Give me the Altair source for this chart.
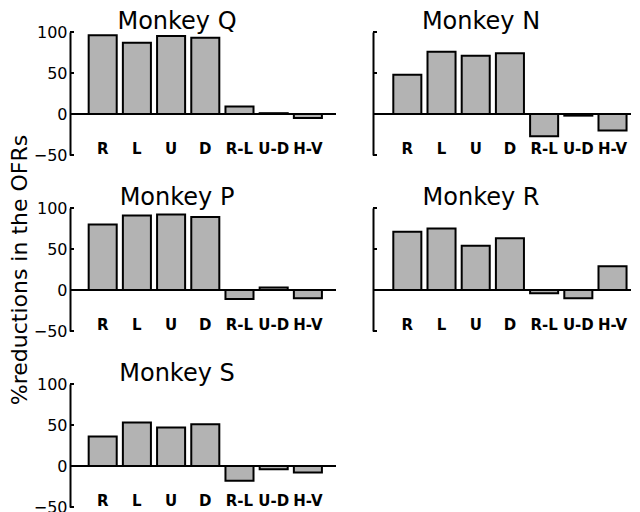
import altair as alt
import pandas as pd

categories = ["R", "L", "U", "D", "R-L", "U-D", "H-V"]
monkey_q = [96, 87, 95, 93, 9, 1, -5]
monkey_n = [48, 76, 71, 74, -27, -2, -20]
monkey_p = [80, 91, 92, 89, -11, 3, -10]
monkey_r = [71, 75, 54, 63, -4, -10, 29]
monkey_s = [36, 53, 47, 51, -18, -4, -8]
tick_values = [100, 50, 0, -50]

FONT = "DejaVu Sans"
PLOT_H = 123
ROW_GAP = 53
LEFT_W = 266
RIGHT_W = 258


def panel(name, values, show_labels, width, pad_outer, align, title_dx, ytitle=None):
    df = pd.DataFrame({"cat": categories, "value": values})
    yscale = alt.Scale(domain=[-50, 100], nice=False, zero=False)
    yaxis_kwargs = dict(
        values=tick_values,
        ticks=False,
        domainColor="black",
        domainWidth=2,
        labelFontSize=16,
        labelFont=FONT,
        labelColor="black",
        labelPadding=3,
        labelOpacity=1 if show_labels else 0,
        grid=False,
    )
    if ytitle:
        # title centred on the middle row of panels
        yaxis_kwargs.update(
            title=ytitle,
            titleFont=FONT,
            titleFontSize=22,
            titleFontWeight="normal",
            titleColor="black",
            titlePadding=2,
            titleY=PLOT_H + ROW_GAP + PLOT_H / 2,
        )
    else:
        yaxis_kwargs.update(title=None)

    bars = alt.Chart(df).mark_bar(
        fill="#b3b3b3", stroke="black", strokeWidth=2
    ).encode(
        x=alt.X(
            "cat:N",
            sort=categories,
            scale=alt.Scale(paddingInner=0.18, paddingOuter=pad_outer, align=align),
            axis=alt.Axis(
                orient="bottom",
                domain=False,
                ticks=False,
                labelAngle=0,
                labelFontSize=15,
                labelFont=FONT,
                labelFontWeight="bold",
                labelColor="black",
                labelPadding=2,
                offset=-16,
                title=None,
            ),
        ),
        y=alt.Y("value:Q", scale=yscale, axis=alt.Axis(**yaxis_kwargs)),
    )
    zero = alt.Chart(pd.DataFrame({"z": [0]})).mark_rule(
        color="black", strokeWidth=2
    ).encode(y=alt.Y("z:Q", scale=yscale))
    ticks = alt.Chart(pd.DataFrame({"t": tick_values})).mark_rule(
        color="black", strokeWidth=2
    ).encode(y=alt.Y("t:Q", scale=yscale), x=alt.value(0), x2=alt.value(4))
    return alt.layer(bars, zero, ticks).properties(
        width=width,
        height=PLOT_H,
        title=alt.TitleParams(
            name,
            font=FONT,
            fontSize=24,
            fontWeight="normal",
            color="black",
            anchor="middle",
            frame="group",
            dx=title_dx,
            offset=-10,
        ),
    )


L = dict(width=LEFT_W, pad_outer=0.479, align=0.57, title_dx=-26)
R = dict(width=RIGHT_W, pad_outer=0.362, align=0.82, title_dx=-21)

chart = alt.concat(
    panel("Monkey Q", monkey_q, True, ytitle="%reductions in the OFRs", **L),
    panel("Monkey N", monkey_n, False, **R),
    panel("Monkey P", monkey_p, True, **L),
    panel("Monkey R", monkey_r, False, **R),
    panel("Monkey S", monkey_s, True, **L),
    columns=2,
    bounds="flush",
    spacing={"row": ROW_GAP, "column": 37},
).properties(
    padding={"left": 0, "top": 2, "right": 0, "bottom": 0}
).configure_view(stroke=None)

chart.save("out.html", embed_options={"renderer": "svg", "actions": False})
